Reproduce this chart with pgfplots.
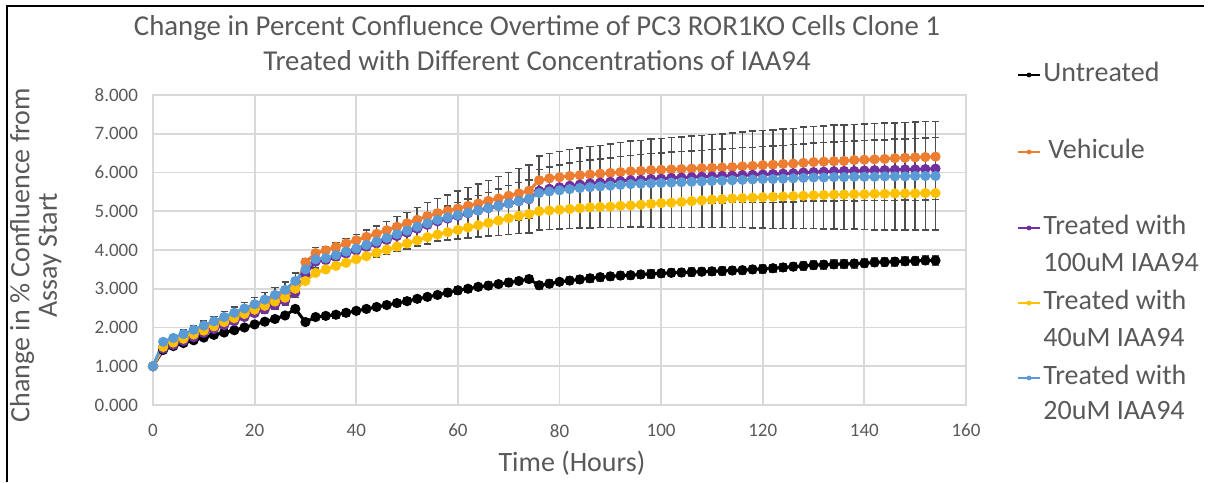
\documentclass[border=0pt]{standalone}
\usepackage{fontspec}
\setmainfont{Carlito}
\usepackage{pgfplots}
\usepackage{pgfplotstable}
\pgfplotsset{compat=1.18}
\definecolor{txtgray}{HTML}{595959}
\definecolor{gridgray}{HTML}{D9D9D9}
\definecolor{errgray}{HTML}{4D4D4D}
\definecolor{cOrange}{HTML}{ED7D31}
\definecolor{cPurple}{HTML}{7030A0}
\definecolor{cYellow}{HTML}{FFC000}
\definecolor{cBlue}{HTML}{5B9BD5}

% t, untreated, vehicule, 100uM, 40uM, 20uM (value and error for each)
\pgfplotstableread{
t U Ue V Ve P Pe Y Ye B Be
0 1.00 0.00 1.00 0.00 1.00 0.00 1.00 0.00 1.00 0.00
2 1.42 0.06 1.50 0.04 1.45 0.04 1.50 0.04 1.63 0.08
4 1.52 0.06 1.61 0.04 1.55 0.05 1.61 0.04 1.73 0.09
6 1.60 0.06 1.72 0.04 1.65 0.05 1.71 0.04 1.83 0.10
8 1.67 0.06 1.84 0.04 1.75 0.06 1.82 0.04 1.94 0.11
10 1.74 0.06 1.95 0.04 1.86 0.06 1.92 0.04 2.05 0.12
12 1.81 0.06 2.07 0.05 1.96 0.07 2.03 0.05 2.16 0.13
14 1.87 0.06 2.18 0.05 2.06 0.08 2.14 0.05 2.27 0.14
16 1.93 0.07 2.29 0.05 2.16 0.08 2.24 0.05 2.38 0.15
18 2.00 0.07 2.41 0.05 2.27 0.09 2.35 0.05 2.49 0.16
20 2.08 0.07 2.52 0.05 2.37 0.09 2.46 0.05 2.60 0.17
22 2.15 0.07 2.63 0.05 2.47 0.10 2.56 0.05 2.72 0.18
24 2.22 0.07 2.75 0.05 2.58 0.10 2.67 0.05 2.84 0.19
26 2.31 0.07 2.86 0.05 2.69 0.11 2.77 0.05 2.97 0.20
28 2.48 0.08 3.05 0.06 2.90 0.12 3.00 0.06 3.20 0.21
30 2.14 0.08 3.68 0.06 3.37 0.15 3.20 0.06 3.50 0.27
32 2.27 0.08 3.92 0.06 3.70 0.17 3.41 0.06 3.76 0.30
34 2.30 0.08 3.99 0.06 3.74 0.17 3.50 0.06 3.79 0.30
36 2.33 0.08 4.08 0.06 3.82 0.18 3.59 0.06 3.87 0.32
38 2.38 0.08 4.17 0.06 3.91 0.19 3.67 0.06 3.96 0.34
40 2.43 0.08 4.25 0.06 3.99 0.20 3.76 0.06 4.04 0.36
42 2.48 0.08 4.34 0.06 4.08 0.22 3.84 0.06 4.13 0.38
44 2.53 0.08 4.42 0.06 4.17 0.23 3.93 0.06 4.22 0.40
46 2.58 0.08 4.51 0.06 4.26 0.24 4.01 0.06 4.31 0.42
48 2.63 0.08 4.60 0.06 4.36 0.25 4.09 0.06 4.41 0.45
50 2.68 0.08 4.69 0.06 4.45 0.27 4.17 0.06 4.50 0.47
52 2.74 0.08 4.78 0.06 4.55 0.28 4.25 0.06 4.60 0.50
54 2.79 0.08 4.87 0.06 4.65 0.30 4.33 0.06 4.69 0.53
56 2.84 0.09 4.95 0.06 4.74 0.31 4.40 0.06 4.78 0.55
58 2.90 0.09 5.01 0.06 4.81 0.33 4.46 0.06 4.84 0.58
60 2.96 0.09 5.07 0.06 4.88 0.35 4.52 0.06 4.90 0.62
62 3.00 0.09 5.14 0.06 4.95 0.37 4.58 0.06 4.96 0.65
64 3.05 0.09 5.20 0.06 5.02 0.39 4.64 0.06 5.02 0.68
66 3.08 0.09 5.27 0.06 5.08 0.41 4.70 0.06 5.08 0.72
68 3.12 0.09 5.33 0.06 5.14 0.43 4.76 0.06 5.14 0.76
70 3.16 0.09 5.40 0.06 5.20 0.46 4.82 0.06 5.20 0.80
72 3.20 0.09 5.46 0.06 5.26 0.48 4.88 0.06 5.26 0.84
74 3.25 0.09 5.53 0.06 5.31 0.50 4.93 0.06 5.32 0.88
76 3.09 0.09 5.80 0.07 5.53 0.55 5.00 0.07 5.47 0.96
78 3.13 0.09 5.85 0.07 5.58 0.56 5.02 0.07 5.51 0.98
80 3.18 0.09 5.88 0.07 5.62 0.57 5.04 0.07 5.54 1.00
82 3.21 0.09 5.91 0.07 5.66 0.58 5.06 0.07 5.57 1.02
84 3.24 0.09 5.93 0.07 5.69 0.59 5.08 0.07 5.60 1.03
86 3.27 0.10 5.95 0.07 5.72 0.60 5.10 0.07 5.62 1.05
88 3.30 0.10 5.97 0.07 5.74 0.61 5.11 0.07 5.64 1.06
90 3.32 0.10 5.99 0.07 5.76 0.62 5.12 0.07 5.66 1.08
92 3.34 0.10 6.01 0.07 5.78 0.63 5.14 0.07 5.68 1.10
94 3.35 0.10 6.03 0.07 5.80 0.64 5.15 0.07 5.70 1.11
96 3.37 0.10 6.04 0.07 5.81 0.65 5.17 0.07 5.71 1.12
98 3.38 0.10 6.06 0.07 5.83 0.66 5.19 0.07 5.72 1.14
100 3.40 0.10 6.07 0.07 5.84 0.66 5.21 0.07 5.73 1.15
102 3.41 0.10 6.08 0.07 5.86 0.67 5.22 0.07 5.74 1.16
104 3.42 0.10 6.09 0.07 5.87 0.67 5.24 0.07 5.75 1.17
106 3.43 0.10 6.10 0.07 5.88 0.68 5.26 0.07 5.76 1.18
108 3.44 0.10 6.11 0.07 5.89 0.68 5.28 0.07 5.77 1.19
110 3.45 0.10 6.12 0.07 5.90 0.69 5.30 0.07 5.78 1.20
112 3.46 0.10 6.13 0.07 5.91 0.70 5.31 0.07 5.79 1.21
114 3.47 0.10 6.14 0.07 5.92 0.70 5.33 0.07 5.80 1.22
116 3.48 0.10 6.16 0.07 5.93 0.71 5.34 0.07 5.81 1.23
118 3.50 0.10 6.17 0.07 5.94 0.71 5.35 0.07 5.82 1.25
120 3.51 0.10 6.19 0.07 5.95 0.72 5.36 0.07 5.83 1.26
122 3.53 0.10 6.20 0.07 5.96 0.73 5.37 0.07 5.83 1.27
124 3.55 0.10 6.22 0.07 5.97 0.73 5.38 0.07 5.84 1.28
126 3.57 0.10 6.23 0.07 5.98 0.74 5.39 0.07 5.85 1.29
128 3.59 0.10 6.25 0.07 6.00 0.74 5.40 0.07 5.86 1.31
130 3.61 0.10 6.27 0.07 6.01 0.75 5.41 0.07 5.87 1.32
132 3.62 0.11 6.28 0.07 6.02 0.75 5.42 0.07 5.87 1.33
134 3.63 0.11 6.29 0.07 6.03 0.76 5.43 0.07 5.88 1.34
136 3.64 0.11 6.30 0.07 6.04 0.76 5.43 0.07 5.88 1.35
138 3.65 0.11 6.32 0.07 6.04 0.77 5.44 0.07 5.89 1.35
140 3.66 0.11 6.33 0.07 6.05 0.77 5.44 0.07 5.89 1.36
142 3.68 0.11 6.34 0.07 6.06 0.78 5.45 0.07 5.89 1.37
144 3.69 0.11 6.35 0.07 6.06 0.78 5.45 0.07 5.90 1.38
146 3.70 0.11 6.37 0.07 6.07 0.79 5.46 0.07 5.90 1.38
148 3.71 0.11 6.38 0.07 6.08 0.79 5.46 0.07 5.90 1.39
150 3.72 0.11 6.39 0.07 6.08 0.80 5.46 0.07 5.91 1.39
152 3.73 0.11 6.40 0.07 6.09 0.80 5.47 0.07 5.91 1.40
154 3.73 0.12 6.41 0.07 6.10 0.80 5.47 0.07 5.91 1.40
}\conf

\pgfplotsset{
  series/.style={mark=*, mark size=1.75pt, line width=1.5pt, #1,
    mark options={solid, fill=#1, draw=#1},
    error bars/y dir=both, error bars/y explicit,
    error bars/error bar style={errgray, line width=0.75pt},
    error bars/error mark options={errgray, rotate=90, mark size=1.8pt, line width=0.75pt}},
}

\begin{document}
\begin{tikzpicture}
\useasboundingbox (0,0) rectangle (606.5pt,241pt);
% screenshot frame
\draw[black, line width=1pt] (3.25pt,0) -- (3.25pt,237.75pt) -- (602pt,237.75pt);

\begin{axis}[
    at={(76.5pt,38.5pt)}, anchor=south west,
    scale only axis, width=406.5pt, height=155pt,
    xmin=0, xmax=160, ymin=0, ymax=8,
    xtick={0,20,...,160}, ytick={0,1,...,8},
    grid=major,
    grid style={gridgray, line width=0.9pt},
    axis line style={gridgray, line width=0.9pt},
    major tick length=0pt,
    tick label style={font=\fontsize{9.5}{11}\selectfont, text=txtgray},
    /pgf/number format/assume math mode=true,
    yticklabel style={/pgf/number format/fixed, /pgf/number format/fixed zerofill,
      /pgf/number format/precision=3, xshift=-4pt},
    xticklabel style={yshift=-6pt},
]
\addplot[series=black] table[x=t, y=U, y error=Ue] {\conf};
\addplot[series=cOrange] table[x=t, y=V, y error=Ve] {\conf};
\addplot[series=cPurple] table[x=t, y=P, y error=Pe] {\conf};
\addplot[series=cYellow] table[x=t, y=Y, y error=Ye] {\conf};
\addplot[series=cBlue] table[x=t, y=B, y error=Be] {\conf};
\end{axis}

% title
\node[text=txtgray, font=\fontsize{14.4}{17}\selectfont] at (268.5pt,227pt) {Change in Percent Confluence Overtime of PC3 ROR1KO Cells Clone 1};
\node[text=txtgray, font=\fontsize{14.4}{17}\selectfont] at (268.5pt,210.5pt) {Treated with Different Concentrations of IAA94};
% axis titles
\node[text=txtgray, font=\fontsize{14}{16}\selectfont] at (286pt,9.5pt) {Time (Hours)};
\node[text=txtgray, font=\fontsize{14}{16}\selectfont, rotate=90] at (11pt,113.5pt) {Change in \% Confluence from};
\node[text=txtgray, font=\fontsize{14}{16}\selectfont, rotate=90] at (25pt,113.5pt) {Assay Start};

% legend
\begin{scope}[every node/.style={text=txtgray, font=\fontsize{14}{16}\selectfont, anchor=mid west, inner sep=0pt}]
\foreach \yy/\cc in {203.5/black, 165/cOrange, 127/cPurple, 89.5/cYellow, 52/cBlue} {
  \draw[\cc, line width=0.75pt] (509pt,\yy pt) -- (520pt,\yy pt);
  \fill[\cc] (514.5pt,\yy pt) circle (1.2pt);
}
\node at (521.5pt,202.5pt) {Untreated};
\node at (524pt,164pt) {Vehicule};
\node at (521.5pt,126pt) {Treated with};
\node at (521.5pt,107.5pt) {100uM IAA94};
\node at (521.5pt,88.5pt) {Treated with};
\node at (521.5pt,70pt) {40uM IAA94};
\node at (521.5pt,51pt) {Treated with};
\node at (521.5pt,33.5pt) {20uM IAA94};
\end{scope}
\end{tikzpicture}
\end{document}
